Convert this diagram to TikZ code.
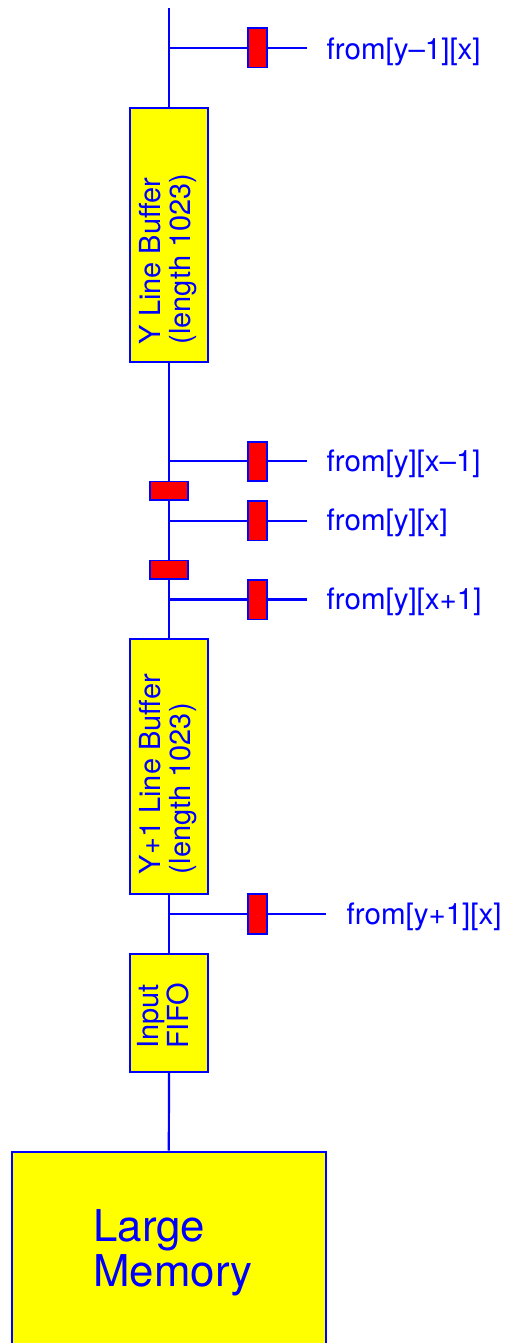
\documentclass[tikz,border=0pt]{standalone}
\usepackage{fontspec}
\setmainfont{TeX Gyre Heros}
\definecolor{fblue}{RGB}{0,0,255}
\definecolor{fyellow}{RGB}{255,255,0}
\definecolor{fred}{RGB}{255,0,0}
\begin{document}
\begin{tikzpicture}[x=1pt,y=-1pt,
  wire/.style={draw=fblue,line width=2.2pt},
  blockbox/.style={draw=fblue,fill=fyellow,line width=2.2pt,rectangle,inner sep=0pt,minimum width=78pt},
  regv/.style={draw=fblue,fill=fred,line width=1.8pt,rectangle,inner sep=0pt,minimum width=19pt,minimum height=39.4pt},
  regh/.style={draw=fblue,fill=fred,line width=1.8pt,rectangle,inner sep=0pt,minimum width=38.4pt,minimum height=18.4pt},
  lbl/.style={text=fblue,font=\fontsize{29.5}{30.5}\selectfont,inner sep=0pt,anchor=base west},
  boxtext/.style={text=fblue,font=\fontsize{29}{30}\selectfont,inner sep=0pt,rotate=90,align=left},
  bigtext/.style={text=fblue,font=\fontsize{43.8}{45}\selectfont,inner sep=0pt,align=left}
]
\useasboundingbox (0,0) rectangle (506,1343);
\clip (0,0) rectangle (506,1343);

% blocks
\node[blockbox,minimum height=254.6pt] (ybuf) at (169,235) {};
\node[blockbox,minimum height=255pt] (y1buf) at (169,766.7) {};
\node[blockbox,minimum height=118pt] (fifo) at (169,1013) {};
\node[blockbox,minimum width=313.7pt,minimum height=300pt] (mem) at (168.8,1301.7) {};

% coordinates
\coordinate (top) at (169,8);
\coordinate (b1) at (169,48.3);  \coordinate (e1) at (306.5,48.3);
\coordinate (b2) at (169,461.3); \coordinate (e2) at (306.5,461.3);
\coordinate (b3) at (169,520.7); \coordinate (e3) at (306.5,520.7);
\coordinate (b4) at (169,599.5); \coordinate (e4) at (306.5,599.5);
\coordinate (b5) at (169,914);   \coordinate (e5) at (326,914);

% wires
\draw[wire] (top) -- (ybuf.north);
\draw[wire] (ybuf.south) -- (y1buf.north);
\draw[wire] (y1buf.south) -- (fifo.north);
\draw[wire] (fifo.south) -- (mem.north);
\draw[wire] (b1) -- (e1);
\draw[wire] (b2) -- (e2);
\draw[wire] (b3) -- (e3);
\draw[wire] (b4) -- (e4);
\draw[wire] (b5) -- (e5);

% registers
\node[regv] (r1) at (257.7,47.8) {};
\node[regv] (r2) at (257.7,461.5) {};
\node[regv] (r3) at (257.7,520.7) {};
\node[regv] (r4) at (257.7,599.7) {};
\node[regv] (r5) at (257.7,914) {};
\node[regh] (s1) at (169,490.7) {};
\node[regh] (s2) at (169,569.7) {};

% labels
\node[lbl] (l1) at (326.5,59.3) {from[y–1][x]};
\node[lbl] (l2) at (326.5,471.5) {from[y][x–1]};
\node[lbl] (l3) at (326.5,530.8) {from[y][x]};
\node[lbl] (l4) at (326.5,609.5) {from[y][x+1]};
\node[lbl] (l5) at (346.5,924.3) {from[y+1][x]};

% block texts
\node[boxtext] (ytxt) at (168,259) {Y Line Buffer\\(length 1023)};
\node[boxtext] (y1txt) at (168,774) {Y+1 Line Buffer\\(length 1023)};
\node[boxtext] (fifotxt) at (163.5,1016) {Input\\FIFO};
\node[bigtext] (memtxt) at (173,1253) {Large\\Memory};
\end{tikzpicture}
\end{document}
